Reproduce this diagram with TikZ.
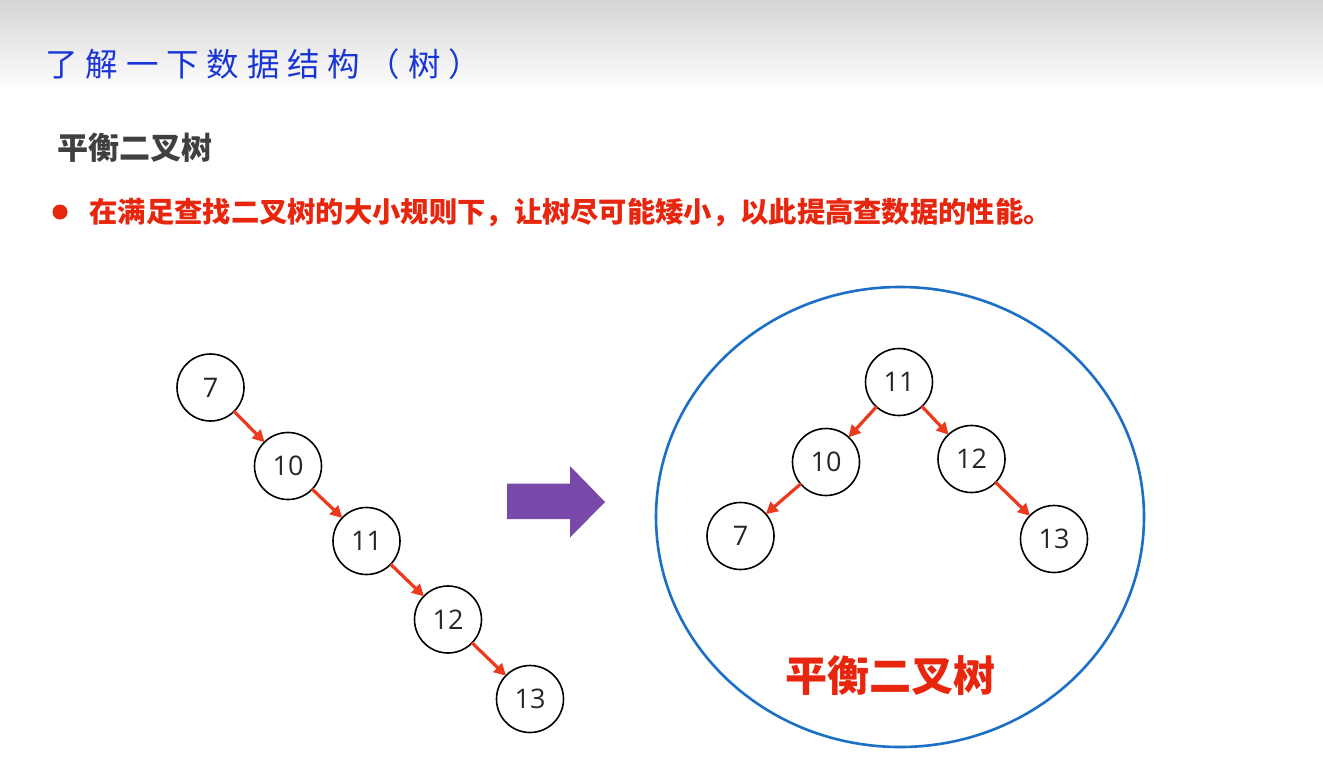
\documentclass[tikz,border=0pt]{standalone}
\usepackage{fontspec}
\setmainfont{Open Sans}
\newfontfamily\cjk{Noto Sans CJK SC}
\newfontfamily\titlefont[LetterSpace=24]{Noto Sans CJK SC}
\usetikzlibrary{arrows.meta,shapes.geometric}
\definecolor{titleblue}{HTML}{1A35D6}
\definecolor{hred}{HTML}{E8260E}
\definecolor{arrred}{HTML}{EC3A1E}
\definecolor{ringblue}{HTML}{1C6FC6}
\definecolor{purp}{HTML}{7849A9}
\definecolor{dgray}{HTML}{404040}
\tikzset{
  tnode/.style={circle,draw=black,line width=1.6pt,minimum size=67pt,inner sep=0pt,fill=white,font=\fontsize{27}{29}\selectfont,text=black!85},
  redarr/.style={draw=arrred,line width=3.2pt,-{Triangle[length=12pt,width=12pt]},shorten <=-1pt,shorten >=-1pt}
}
\begin{document}
\begin{tikzpicture}[x=1pt,y=-1pt]
\useasboundingbox (0,0) rectangle (1323,784);
\fill[white] (0,0) rectangle (1323,784);
\shade[top color={rgb,255:red,213;green,213;blue,213},bottom color=white] (0,0) rectangle (1323,92);
% title
\node[anchor=west,text=titleblue,font=\titlefont\fontsize{32.5}{34}\selectfont] (title) at (42,64) {了解一下数据结构（树）};
\node[anchor=west,text=dgray,font=\cjk\bfseries\fontsize{31}{33}\selectfont] (sub) at (54,148) {平衡二叉树};
\node[circle,fill=hred,minimum size=15pt,inner sep=0pt] (dot) at (60,212) {};
\node[anchor=west,text=hred,font=\cjk\bfseries\fontsize{28.3}{30}\selectfont] (desc) at (86,212) {在满足查找二叉树的大小规则下，让树尽可能矮小，以此提高查数据的性能。};
% left chain
\node[tnode] (a7) at (210.5,387.5) {7};
\node[tnode] (a10) at (288,466) {10};
\node[tnode] (a11) at (366.5,541) {11};
\node[tnode] (a12) at (448,619.5) {12};
\node[tnode] (a13) at (530,699) {13};
\draw[redarr] (a7) -- (a10);
\draw[redarr] (a10) -- (a11);
\draw[redarr] (a11) -- (a12);
\draw[redarr] (a12) -- (a13);
% purple arrow
\fill[purp] (507,483.5) -- (570,483.5) -- (570,466) -- (605,502) -- (570,537.5) -- (570,519) -- (507,519) -- cycle;
% ring
\node[ellipse,draw=ringblue,line width=2.6pt,minimum width=488pt,minimum height=460pt,inner sep=0pt] (ring) at (900,517) {};
% right tree
\node[tnode] (b11) at (899,382) {11};
\node[tnode] (b10) at (826,462) {10};
\node[tnode] (b12) at (971.5,459) {12};
\node[tnode] (b7) at (740.5,536) {7};
\node[tnode] (b13) at (1054,539) {13};
\draw[redarr] (b11) -- (b10);
\draw[redarr] (b11) -- (b12);
\draw[redarr] (b10) -- (b7);
\draw[redarr] (b12) -- (b13);
\node[text=hred,font=\cjk\bfseries\fontsize{42}{46}\selectfont] (label) at (890,676) {平衡二叉树};
\end{tikzpicture}
\end{document}
